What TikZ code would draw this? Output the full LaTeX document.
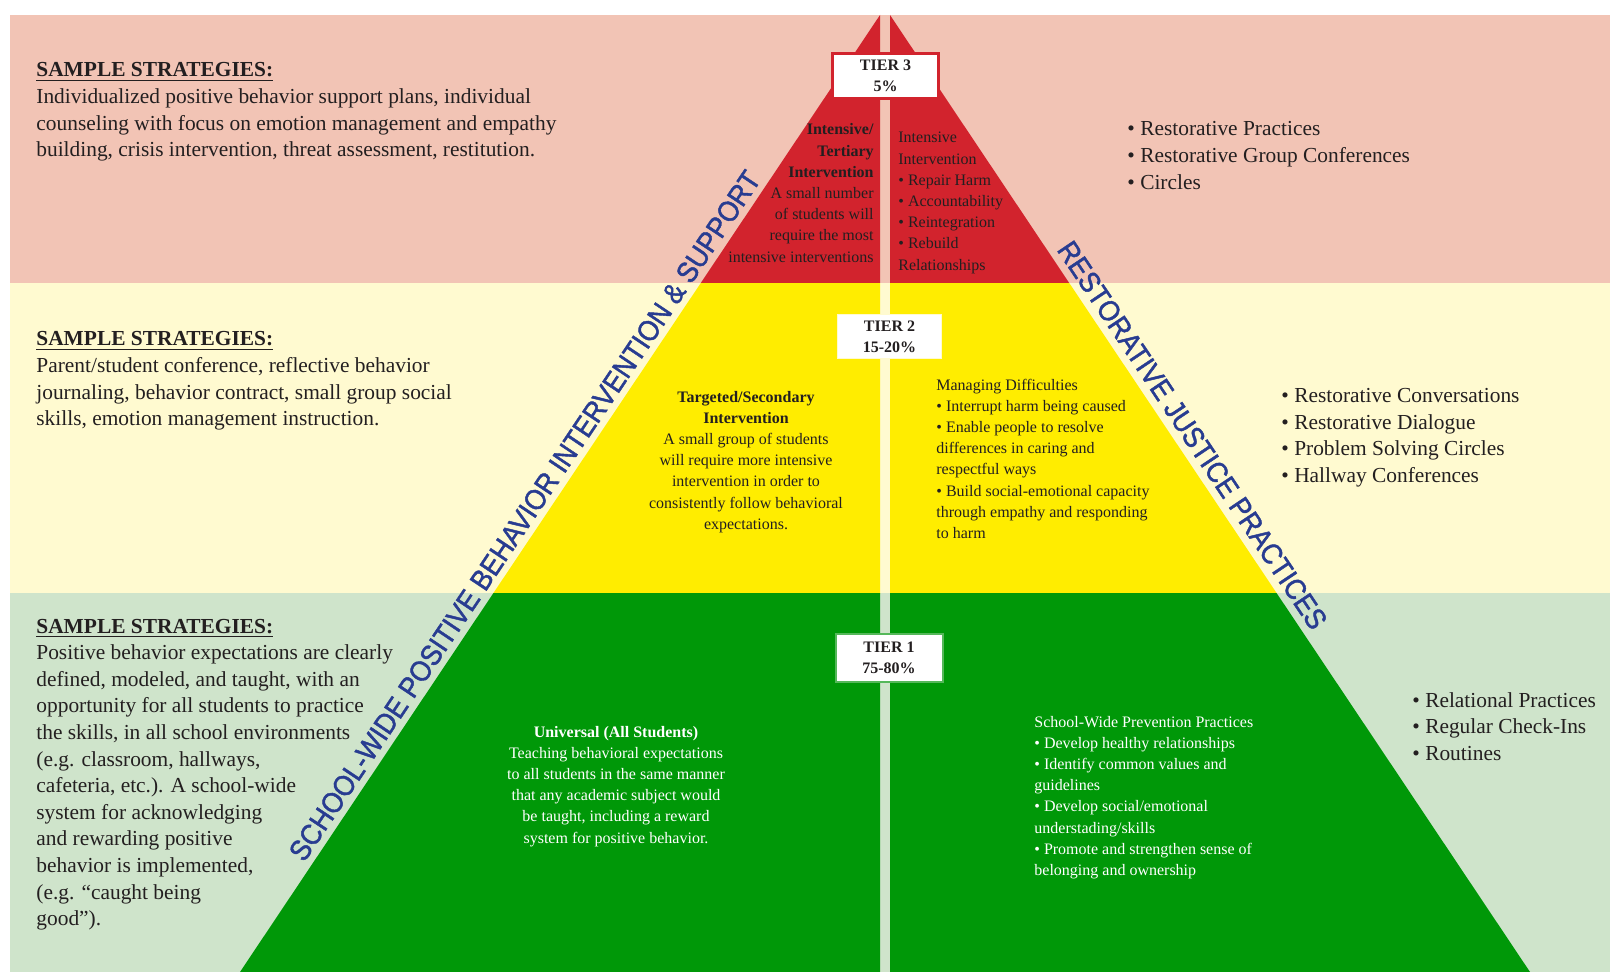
\documentclass[tikz,border=0pt]{standalone}
\usepackage{fontspec}
\setmainfont{Liberation Serif}
\newfontfamily\lsans[FakeStretch=0.91,FakeBold=1.5]{Liberation Sans}
\definecolor{bgpink}{HTML}{F2C4B5}
\definecolor{bgyel}{HTML}{FFFAD0}
\definecolor{bggrn}{HTML}{CFE4CB}
\definecolor{tred}{HTML}{D2232D}
\definecolor{tyel}{HTML}{FFED00}
\definecolor{tgrn}{HTML}{009808}
\definecolor{lblue}{HTML}{283C91}
\definecolor{txt}{HTML}{231F20}
\definecolor{tonebd}{HTML}{55B85A}
\tikzset{
  body/.style={font=\fontsize{10.7}{13.3}\selectfont, text=txt, inner sep=0pt, align=left, anchor=base west},
  innertxt/.style={font=\fontsize{8}{10.6}\selectfont, text=txt, inner sep=0pt},
  tierbox/.style={fill=white, font=\bfseries\fontsize{8}{10.5}\selectfont, text=txt, align=center, inner sep=0pt},
  sidelabel/.style={font=\lsans\fontsize{14.5}{17}\selectfont, text=lblue, inner sep=0pt, anchor=base}
}
\begin{document}
\begin{tikzpicture}[x=0.5pt,y=-0.5pt]
\useasboundingbox (0,0) rectangle (1610,972);
\fill[white] (0,0) rectangle (1610,972);
% background bands
\fill[bgpink] (10,15) rectangle (1610,283.5);
\fill[bgyel] (10,283) rectangle (1610,593.5);
\fill[bggrn] (10,593) rectangle (1610,972);
% pyramid halves
\foreach \a/\b in {880/240, 890/1530}{
  \begin{scope}
    \clip (\a,15) -- (\b,972) -- (\a,972) -- cycle;
    \fill[tred] (0,10) rectangle (1610,283.5);
    \fill[tyel] (0,283) rectangle (1610,593.5);
    \fill[tgrn] (0,593) rectangle (1610,980);
  \end{scope}
}
% side labels
\node[sidelabel, rotate=56.2] (lsw) at (533.0,521.2) {SCHOOL-WIDE POSITIVE BEHAVIOR INTERVENTION \& SUPPORT};
\node[sidelabel, rotate=-56.2] (lrj) at (1184.1,440.7) {RESTORATIVE JUSTICE PRACTICES};
% left strategies (anchored at the baseline of the last line)
\node[body] (s3) at (36,156.8) {\underline{\textbf{SAMPLE STRATEGIES:}}\\Individualized positive behavior support plans, individual\\counseling with focus on emotion management and empathy\\building, crisis intervention, threat assessment, restitution.};
\node[body] (s2) at (36,425.8) {\underline{\textbf{SAMPLE STRATEGIES:}}\\Parent/student conference, reflective behavior\\journaling, behavior contract, small group social\\skills, emotion management instruction.};
\node[body] (s1) at (36,925.6) {\underline{\textbf{SAMPLE STRATEGIES:}}\\Positive behavior expectations are clearly\\defined, modeled, and taught, with an\\opportunity for all students to practice\\the skills, in all school environments\\(e.g. classroom, hallways,\\cafeteria, etc.). A school-wide\\system for acknowledging\\and rewarding positive\\behavior is implemented,\\(e.g. “caught being\\good”).};
% right lists
\node[body] (r3) at (1127,189.2) {• Restorative Practices\\• Restorative Group Conferences\\• Circles};
\node[body] (r2) at (1281,482.5) {• Restorative Conversations\\• Restorative Dialogue\\• Problem Solving Circles\\• Hallway Conferences};
\node[body] (r1) at (1412,760.2) {• Relational Practices\\• Regular Check-Ins\\• Routines};
% tier 3 texts
\node[innertxt, align=right, anchor=base east] (i3l) at (874,262.2) {\textbf{Intensive/}\\\textbf{Tertiary}\\\textbf{Intervention}\\A small number\\of students will\\require the most\\intensive interventions};
\node[innertxt, align=left, anchor=base west] (i3r) at (898,270.2) {Intensive\\Intervention\\• Repair Harm\\• Accountability\\• Reintegration\\• Rebuild\\Relationships};
% tier 2 texts
\node[innertxt, align=center, anchor=base] (i2l) at (746,529.2) {\textbf{Targeted/Secondary}\\\textbf{Intervention}\\A small group of students\\will require more intensive\\intervention in order to\\consistently follow behavioral\\expectations.};
\node[innertxt, align=left, anchor=base west] (i2r) at (936,538.4) {Managing Difficulties\\• Interrupt harm being caused\\• Enable people to resolve\\differences in caring and\\respectful ways\\• Build social-emotional capacity\\through empathy and responding\\to harm};
% tier 1 texts
\node[innertxt, text=white, align=center, anchor=base] (i1l) at (616,843) {\textbf{Universal (All Students)}\\Teaching behavioral expectations\\to all students in the same manner\\that any academic subject would\\be taught, including a reward\\system for positive behavior.};
\node[innertxt, text=white, align=left, anchor=base west] (i1r) at (1034,875.4) {School-Wide Prevention Practices\\• Develop healthy relationships\\• Identify common values and\\guidelines\\• Develop social/emotional\\understading/skills\\• Promote and strengthen sense of\\belonging and ownership};
% tier boxes
\node[tierbox, draw=tred, line width=1.35pt, minimum width=53.2pt, minimum height=22.7pt] (t3) at (885.5,76) {TIER 3\\5\%};
\node[tierbox, draw=bgyel, line width=0.6pt, minimum width=52pt, minimum height=22pt] (t2) at (889.5,336.5) {TIER 2\\15-20\%};
\node[tierbox, draw=tonebd, line width=1pt, minimum width=53.5pt, minimum height=24pt] (t1) at (889,657.7) {TIER 1\\75-80\%};
\end{tikzpicture}
\end{document}
